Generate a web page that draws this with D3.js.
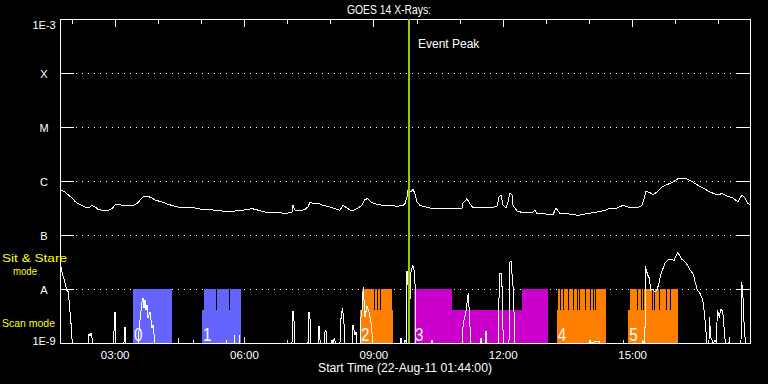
<!DOCTYPE html>
<html><head><meta charset="utf-8">
<script src="https://cdn.jsdelivr.net/npm/d3@7"></script>
<style>body{margin:0;background:#000;}svg{display:block;}</style>
</head><body>
<svg id="chart" width="768" height="384"></svg>
<script>
// ---------- data ----------
const titleText = "GOES 14 X-Rays:";
const xAxisTitle = "Start Time (22-Aug-11 01:44:00)";
const startHour = 1 + 44/60;      // 01:44
const endHour = 17 + 44/60;       // 17:44
const peakHour = 9.826;
const yTickValues = [1e-9, 1e-8, 1e-7, 1e-6, 1e-5, 1e-4, 1e-3];
const yTickLabels = ["1E-9", "A", "B", "C", "M", "X", "1E-3"];
const hourTicks = [2,3,4,5,6,7,8,9,10,11,12,13,14,15,16,17];
const xTickHours = [3, 6, 9, 12, 15];
const xTickLabels = ["03:00", "06:00", "09:00", "12:00", "15:00"];

// long channel (1-8 A): [clock hour, log10 flux]
const longChannel = [[1.733,-6.296],[1.756,-6.172],[1.849,-6.204],[1.919,-6.254],[2.012,-6.315],[2.081,-6.376],[2.151,-6.420],[2.244,-6.450],[2.313,-6.481],[2.360,-6.500],[2.429,-6.481],[2.475,-6.450],[2.545,-6.481],[2.615,-6.524],[2.707,-6.543],[2.846,-6.543],[2.939,-6.513],[3.009,-6.439],[3.078,-6.426],[3.171,-6.450],[3.310,-6.450],[3.426,-6.450],[3.519,-6.420],[3.588,-6.357],[3.658,-6.296],[3.751,-6.278],[3.867,-6.315],[3.936,-6.352],[4.099,-6.389],[4.238,-6.431],[4.400,-6.469],[4.562,-6.500],[4.701,-6.481],[4.864,-6.500],[5.026,-6.524],[5.165,-6.524],[5.327,-6.543],[5.490,-6.556],[5.629,-6.561],[5.791,-6.556],[5.954,-6.543],[6.093,-6.524],[6.185,-6.513],[6.255,-6.524],[6.417,-6.561],[6.557,-6.587],[6.719,-6.574],[6.881,-6.593],[7.020,-6.593],[7.067,-6.587],[7.113,-6.574],[7.136,-6.450],[7.183,-6.543],[7.299,-6.556],[7.415,-6.524],[7.484,-6.481],[7.530,-6.389],[7.600,-6.420],[7.716,-6.407],[7.832,-6.450],[7.994,-6.481],[8.156,-6.524],[8.226,-6.543],[8.295,-6.450],[8.388,-6.500],[8.504,-6.556],[8.620,-6.513],[8.736,-6.450],[8.806,-6.339],[8.875,-6.328],[8.968,-6.402],[9.084,-6.431],[9.223,-6.450],[9.386,-6.450],[9.548,-6.469],[9.687,-6.450],[9.733,-6.420],[9.780,-6.296],[9.803,-6.172],[9.872,-6.204],[9.919,-6.154],[9.965,-6.235],[10.012,-6.389],[10.081,-6.450],[10.151,-6.469],[10.313,-6.500],[10.615,-6.513],[10.939,-6.513],[11.055,-6.500],[11.078,-6.407],[11.171,-6.328],[11.241,-6.420],[11.310,-6.494],[11.473,-6.500],[11.635,-6.481],[11.704,-6.500],[11.867,-6.469],[11.913,-6.296],[11.959,-6.265],[12.006,-6.450],[12.075,-6.500],[12.122,-6.389],[12.168,-6.217],[12.215,-6.265],[12.238,-6.450],[12.331,-6.556],[12.470,-6.587],[12.632,-6.587],[12.702,-6.574],[12.748,-6.543],[12.794,-6.606],[12.933,-6.606],[13.165,-6.624],[13.235,-6.500],[13.328,-6.606],[13.490,-6.606],[13.745,-6.635],[13.954,-6.606],[14.186,-6.574],[14.371,-6.543],[14.487,-6.500],[14.649,-6.500],[14.788,-6.450],[14.951,-6.494],[15.113,-6.500],[15.229,-6.450],[15.275,-6.328],[15.322,-6.191],[15.414,-6.217],[15.484,-6.254],[15.577,-6.204],[15.693,-6.111],[15.809,-6.069],[15.948,-6.019],[16.064,-5.957],[16.226,-5.944],[16.342,-5.987],[16.504,-6.069],[16.643,-6.130],[16.806,-6.204],[16.968,-6.254],[17.084,-6.235],[17.200,-6.278],[17.339,-6.315],[17.455,-6.389],[17.548,-6.254],[17.617,-6.315],[17.687,-6.420],[17.733,-6.439]];

// short channel (0.5-4 A): [clock hour, log10 flux]
const shortChannel = [[1.733,-7.648],[1.756,-7.593],[1.780,-7.685],[1.849,-7.889],[1.889,-8.019],[1.926,-8.056],[1.942,-8.204],[1.965,-8.426],[1.988,-8.630],[2.018,-9],
[2.382,-9],[2.406,-8.833],[2.429,-8.870],[2.452,-8.815],[2.475,-8.907],[2.498,-9],
[2.962,-9],[2.985,-8.796],[3.009,-8.426],[3.032,-9],
[3.217,-9],[3.240,-8.704],[3.263,-9],
[3.542,-9],[3.588,-8.574],[3.635,-8.241],[3.658,-8.167],[3.681,-8.352],[3.704,-8.204],[3.727,-8.389],[3.751,-8.296],[3.774,-8.537],[3.820,-8.426],[3.843,-8.574],[3.867,-8.722],[3.890,-8.667],[3.936,-9],
[4.469,-9],[4.481,-8.907],[4.493,-9],
[4.817,-9],[4.829,-8.944],[4.840,-9],
[5.582,-9],[5.594,-8.944],[5.605,-9],
[5.768,-9],[5.780,-8.852],[5.791,-9],
[5.884,-9],[5.896,-8.852],[5.907,-9],
[6.000,-9],[6.012,-8.889],[6.023,-9],
[6.997,-9],[7.008,-8.944],[7.020,-9],
[7.113,-9],[7.136,-8.407],[7.159,-8.574],[7.183,-9],
[7.484,-9],[7.507,-8.426],[7.530,-8.537],[7.553,-9],
[7.716,-9],[7.739,-8.685],[7.762,-8.944],[7.785,-9],
[7.855,-9],[7.878,-8.796],[7.901,-8.759],[7.924,-9],
[8.017,-9],[8.040,-8.944],[8.064,-9],[8.098,-8.907],[8.121,-9],
[8.226,-9],[8.238,-8.611],[8.284,-8.352],[8.319,-8.648],[8.342,-9],
[8.504,-9],[8.527,-8.667],[8.574,-8.852],[8.597,-8.796],[8.620,-9],
[8.690,-9],[8.713,-8.519],[8.736,-8.389],[8.766,-7.963],[8.806,-8.519],[8.852,-8.315],[8.899,-8.426],[8.938,-8.574],[8.991,-9],
[9.617,-9],[9.640,-8.907],[9.663,-9],[9.710,-9],[9.733,-8.944],[9.768,-9],[9.780,-7.667],[9.803,-7.926],[9.849,-8.204],[9.872,-7.685],[9.912,-7.556],[9.942,-7.648],[9.965,-7.889],[9.988,-9],
[10.336,-9],[10.359,-8.944],[10.383,-9],
[11.055,-9],[11.085,-8.630],[11.141,-8.444],[11.201,-8.074],[11.241,-8.704],[11.264,-9],
[11.472,-9],[11.495,-8.907],[11.519,-9],[11.588,-9],[11.611,-8.778],[11.635,-9],
[11.901,-9],[11.920,-7.722],[11.976,-7.704],[12.013,-9],
[12.145,-9],[12.152,-7.519],[12.191,-7.481],[12.245,-8.019],[12.284,-9],
[14.000,-9],[14.023,-8.944],[14.046,-9],[14.185,-8.963],[14.232,-8.963],[14.255,-9],
[14.788,-9],[14.800,-8.944],[14.811,-9],
[15.229,-9],[15.245,-8.944],[15.264,-9],
[15.298,-9],[15.303,-7.574],[15.361,-7.741],[15.398,-7.796],[15.430,-8.019],[15.477,-8.000],[15.530,-8.056],[15.584,-8.000],[15.623,-7.889],[15.663,-7.741],[15.709,-7.635],[15.762,-7.524],[15.816,-7.476],[15.862,-7.450],[15.918,-7.450],[15.971,-7.476],[16.017,-7.389],[16.057,-7.328],[16.110,-7.389],[16.150,-7.450],[16.226,-7.494],[16.280,-7.556],[16.342,-7.648],[16.419,-7.728],[16.458,-7.865],[16.512,-8.019],[16.574,-8.080],[16.637,-8.204],[16.667,-8.389],[16.690,-8.574],[16.713,-8.791],[16.730,-9],
[16.782,-9],[16.789,-8.513],[16.829,-8.907],[16.882,-9],[16.922,-8.944],[16.956,-9],[16.975,-8.389],[17.021,-8.513],[17.061,-8.370],[17.100,-8.420],[17.130,-8.698],[17.161,-9],
[17.246,-9],[17.253,-8.883],[17.269,-9],
[17.524,-9],[17.541,-7.865],[17.578,-8.235],[17.601,-8.759],[17.633,-9],[17.733,-9]];

// observation groups and their programme type
const groupNames = ["0", "1", "2", "3", "4", "5"];
const groupType = ["a", "a", "b", "c", "b", "b"];
// mode segments: [group, start hour, end hour, mode]
const modeSegments = [
  [0, 3.426, 4.323, "stare"],
  [1, 5.026, 5.072, "scan"], [1, 5.072, 5.923, "stare"],
  [2, 8.690, 8.736, "scan"], [2, 8.736, 9.425, "stare"], [2, 9.425, 9.455, "scan"],
  [3, 9.942, 10.823, "stare"], [3, 10.823, 12.446, "scan"], [3, 12.446, 13.049, "stare"],
  [4, 13.251, 13.281, "scan"], [4, 13.281, 14.394, "stare"],
  [5, 14.911, 14.951, "scan"], [5, 14.951, 16.056, "stare"]
];
// brief scan interruptions inside sit & stare periods (clock hours)
const stareBreaks = [5.357, 5.652, 9.021, 9.077, 9.153,
  13.327, 13.389, 13.519, 13.635, 13.714, 13.768, 13.907, 14.023, 14.086, 14.139,
  15.106, 15.198, 15.245, 15.454, 15.507, 15.623, 15.785, 15.878];
const modeLevel = {stare: 1e-8, scan: 4.1e-9};

// ---------- drawing ----------
const W = 768, H = 384;
const L = 60, R = 750, T = 19, B = 343;
const base = new Date(2011, 7, 22).getTime();
const toDate = h => new Date(base + h * 3600000);

const x = d3.scaleTime().domain([toDate(startHour), toDate(endHour)]).range([L, R]);
const y = d3.scaleLog().domain([1e-9, 1e-3]).range([B, T]).clamp(true);
const color = d3.scaleOrdinal().domain(["a", "b", "c"]).range(["#6464ff", "#ff8000", "#cc00cc"]);

const svg = d3.select("#chart");
svg.append("rect").attr("width", W).attr("height", H).attr("fill", "#000");
const font = "'Liberation Sans', Arial, sans-serif";

// grid lines (dotted)
const gridVals = yTickValues.slice(1, -1);
const grid = svg.append("g").attr("shape-rendering", "crispEdges");
grid.selectAll("line.dot").data(gridVals).join("line")
  .attr("x1", L + 16).attr("x2", R - 14)
  .attr("y1", d => Math.round(y(d)) + 0.5).attr("y2", d => Math.round(y(d)) + 0.5)
  .attr("stroke", "#fff").attr("stroke-dasharray", "1,5");

// mode bars
svg.append("g").attr("shape-rendering", "crispEdges")
  .selectAll("rect").data(modeSegments).join("rect")
  .attr("x", d => x(toDate(d[1])))
  .attr("width", d => x(toDate(d[2])) - x(toDate(d[1])))
  .attr("y", d => y(modeLevel[d[3]]))
  .attr("height", d => y(1e-9) - y(modeLevel[d[3]]))
  .attr("fill", d => color(groupType[d[0]]));

svg.append("g").attr("shape-rendering", "crispEdges")
  .selectAll("line").data(stareBreaks).join("line")
  .attr("x1", d => Math.round(x(toDate(d))) + 0.5).attr("x2", d => Math.round(x(toDate(d))) + 0.5)
  .attr("y1", y(modeLevel.stare)).attr("y2", y(modeLevel.scan))
  .attr("stroke", "#000").attr("stroke-width", 1);

// group numbers
const groupStart = groupNames.map((g, i) => d3.min(modeSegments.filter(s => s[0] === i), s => s[1]));
svg.append("g").selectAll("text").data(groupNames).join("text")
  .attr("x", (d, i) => x(toDate(groupStart[i])) + 1)
  .attr("y", B - 2)
  .attr("fill", "#fff").attr("font-family", font).attr("font-size", 19)
  .attr("transform", (d, i) => { const px = x(toDate(groupStart[i])) + 1; return `translate(${px},0) scale(0.8,1) translate(${-px},0)`; })
  .text(d => d);

// curves
const line = d3.line().x(d => x(toDate(d[0]))).y(d => y(Math.pow(10, d[1])));
svg.append("path").datum(longChannel).attr("d", line)
  .attr("fill", "none").attr("stroke", "#fff").attr("stroke-width", 1).attr("shape-rendering", "crispEdges");
svg.append("path").datum(shortChannel).attr("d", line)
  .attr("fill", "none").attr("stroke", "#fff").attr("stroke-width", 1).attr("shape-rendering", "crispEdges");

// solid side ticks
grid.selectAll("line.lt").data(gridVals).join("line").attr("class", "lt")
  .attr("x1", L).attr("x2", L + 14)
  .attr("y1", d => Math.round(y(d)) + 0.5).attr("y2", d => Math.round(y(d)) + 0.5)
  .attr("stroke", "#fff");
grid.selectAll("line.rt").data(gridVals).join("line").attr("class", "rt")
  .attr("x1", R - 14).attr("x2", R)
  .attr("y1", d => Math.round(y(d)) + 0.5).attr("y2", d => Math.round(y(d)) + 0.5)
  .attr("stroke", "#fff");

// frame
svg.append("rect").attr("x", L + 0.5).attr("y", T + 0.5).attr("width", R - L).attr("height", B - T)
  .attr("fill", "none").attr("stroke", "#fff").attr("shape-rendering", "crispEdges");

// top ticks (hourly minor, 3-hourly major)
const topMinor = d3.axisBottom(x).tickValues(hourTicks.map(toDate)).tickSize(4).tickFormat("");
const topMajor = d3.axisBottom(x).tickValues(xTickHours.map(toDate)).tickSize(7).tickFormat("");
[topMinor, topMajor].forEach(ax => {
  const g = svg.append("g").attr("transform", `translate(0,${T + 0.5})`).call(ax);
  g.select(".domain").remove();
  g.selectAll("line").attr("stroke", "#fff").attr("shape-rendering", "crispEdges");
});

// x labels
const xg = svg.append("g").attr("transform", `translate(0,${B})`)
  .call(d3.axisBottom(x).tickValues(xTickHours.map(toDate)).tickFormat((d, i) => xTickLabels[i]).tickSize(0).tickPadding(8));
xg.select(".domain").remove();
xg.selectAll("text").attr("fill", "#fff").attr("font-family", font).attr("font-size", 11.5);

// y labels
const yg = svg.append("g").attr("transform", `translate(44,0)`)
  .call(d3.axisLeft(y).tickValues(yTickValues).tickFormat((d, i) => yTickLabels[i]).tickSize(0).tickPadding(0));
yg.select(".domain").remove();
yg.selectAll("text").attr("x", 0).attr("text-anchor", "middle").attr("fill", "#fff")
  .attr("font-family", font).attr("font-size", 11)
  .attr("dy", d => d === 1e-3 ? "0.85em" : d === 1e-9 ? "0.1em" : "0.45em");

// event peak
const px = Math.round(x(toDate(peakHour)));
svg.append("rect").attr("x", px - 1).attr("y", T).attr("width", 2).attr("height", B - T)
  .attr("fill", "#99cc00").attr("shape-rendering", "crispEdges");
svg.append("text").attr("x", px + 9).attr("y", 48).attr("fill", "#fff")
  .attr("font-family", font).attr("font-size", 12).text("Event Peak");

// titles
svg.append("text").attr("x", 347).attr("y", 14).attr("fill", "#fff").attr("font-family", font)
  .attr("font-size", 12.5).attr("textLength", 84).attr("lengthAdjust", "spacingAndGlyphs").text(titleText);
svg.append("text").attr("x", 318).attr("y", 372).attr("fill", "#fff").attr("font-family", font)
  .attr("font-size", 12).attr("textLength", 174).attr("lengthAdjust", "spacingAndGlyphs").text(xAxisTitle);

// mode legend
const yellow = "#ffff00";
svg.append("text").attr("x", 2).attr("y", 262).attr("fill", yellow).attr("font-family", font)
  .attr("font-size", 10.5).attr("textLength", 65).attr("lengthAdjust", "spacingAndGlyphs").text("Sit & Stare");
svg.append("text").attr("x", 13).attr("y", 275).attr("fill", yellow).attr("font-family", font)
  .attr("font-size", 10.5).attr("textLength", 24).attr("lengthAdjust", "spacingAndGlyphs").text("mode");
svg.append("text").attr("x", 2).attr("y", 327).attr("fill", yellow).attr("font-family", font)
  .attr("font-size", 10.5).attr("textLength", 53).attr("lengthAdjust", "spacingAndGlyphs").text("Scan mode");
</script>
</body></html>
